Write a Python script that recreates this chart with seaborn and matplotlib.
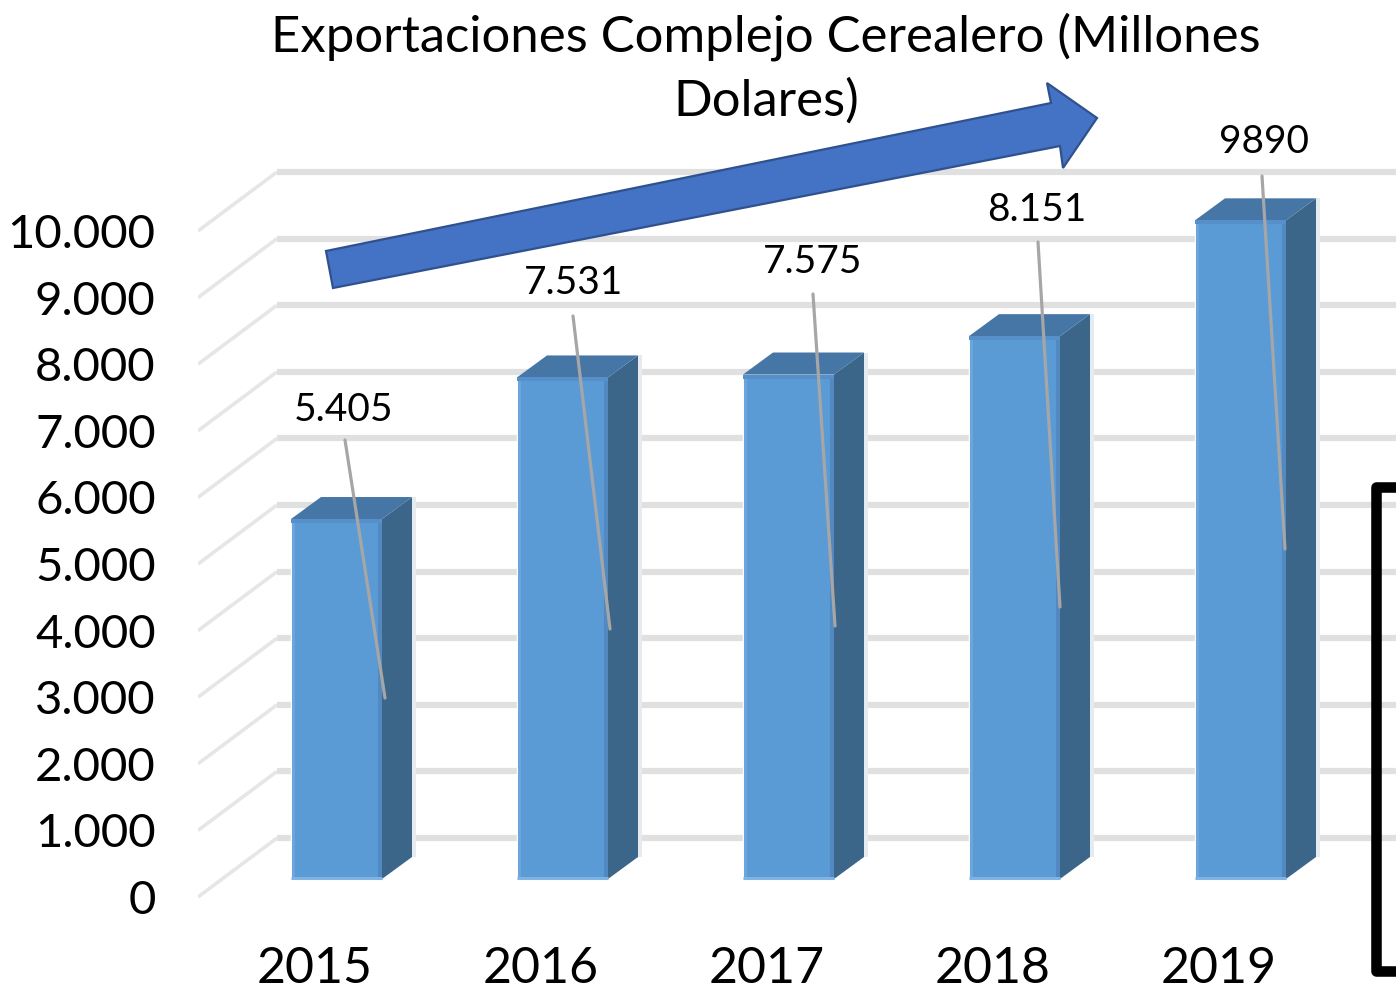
import numpy as np
import pandas as pd
import matplotlib.pyplot as plt
import seaborn as sns
from matplotlib.lines import Line2D
from matplotlib.patches import Polygon
from matplotlib.transforms import Affine2D

years = ["2015", "2016", "2017", "2018", "2019"]
exports = [5405, 7531, 7575, 8151, 9890]
bar_labels = ["5.405", "7.531", "7.575", "8.151", "9890"]
y_ticks = [0, 1000, 2000, 3000, 4000, 5000, 6000, 7000, 8000, 9000, 10000]
y_tick_labels = ["0", "1.000", "2.000", "3.000", "4.000", "5.000", "6.000", "7.000", "8.000", "9.000", "10.000"]
title = "Exportaciones Complejo Cerealero (Millones\nDolares)"

W, H = 1396, 991
PX_PER_CAT = 226
PX_PER_UNIT = 0.0666
Y0 = 897  # pixel row of value 0 on the front left edge
X0 = 336.5  # pixel column of the first category

sns.set_style("white")
plt.rcParams["font.family"] = ["Lato", "DejaVu Sans"]

fig = plt.figure(figsize=(W / 100, H / 100), dpi=100)
ax = fig.add_axes([198 / W, (H - 945) / H, (W - 198) / W, 945 / H])

df = pd.DataFrame({"year": years, "value": exports})
bar_base = 18 / PX_PER_UNIT
sns.barplot(data=df, x="year", y="value", color="#5B9BD5", saturation=1, width=91 / PX_PER_CAT,
            bottom=bar_base, ax=ax, zorder=3)

ax.set_xlim((198 - X0) / PX_PER_CAT, (W - X0) / PX_PER_CAT)
ax.set_ylim((Y0 - 945) / PX_PER_UNIT, Y0 / PX_PER_UNIT)
sns.despine(ax=ax, left=True, bottom=True)
ax.set_xlabel("")
ax.set_ylabel("")

ax.set_yticks(y_ticks)
ax.set_yticklabels(y_tick_labels, fontsize=34, color="black")
ax.tick_params(axis="y", length=0, pad=30.5)
ax.set_xticks(np.arange(len(years)) - 22 / PX_PER_CAT)
ax.set_xticklabels(years, fontsize=36, color="black")
ax.tick_params(axis="x", length=0, pad=1)

# back wall and side wall gridlines
back_x = (277 - X0) / PX_PER_CAT
back_dy = 59 / PX_PER_UNIT
for v in y_ticks:
    ax.plot([(198 - X0) / PX_PER_CAT, back_x], [v, v + back_dy], color="#E6E6E6", lw=2.6, zorder=1,
            solid_capstyle="butt")
    ax.plot([back_x, (W - X0) / PX_PER_CAT], [v + back_dy, v + back_dy], color="#E0E0E0", lw=4.5, zorder=1,
            solid_capstyle="butt")

# fake 3d depth on the bars
dx = 30 / PX_PER_CAT
dy = 22 / PX_PER_UNIT
for bar in ax.patches[:len(years)]:
    l = bar.get_x()
    r = l + bar.get_width()
    b = bar.get_y()
    t = b + bar.get_height()
    ax.add_patch(Polygon([(r + 4 / PX_PER_CAT, b + dy), (r + dx + 4 / PX_PER_CAT, b + dy),
                          (r + dx + 4 / PX_PER_CAT, t + dy), (r + dx, t + dy)], color="#E6EBF0", lw=0, zorder=2))
    ax.add_patch(Polygon([(r, b), (r + dx, b + dy), (r + dx, t + dy), (r, t)], color="#3B6689", lw=0, zorder=4))
    ax.add_patch(Polygon([(l, t), (l + dx, t + dy), (r + dx, t + dy), (r, t)], color="#4676A6", lw=0, zorder=4))
    # bevel strips on the front face
    ax.plot([l + 1.5 / PX_PER_CAT] * 2, [b, t], color="#6AA5DC", lw=2.2, zorder=4, solid_capstyle="butt")
    ax.plot([r - 2 / PX_PER_CAT] * 2, [b, t], color="#5189C0", lw=2.9, zorder=4, solid_capstyle="butt")
    ax.plot([l, r], [t - 2 / PX_PER_UNIT] * 2, color="#5590CB", lw=2.9, zorder=4, solid_capstyle="butt")
    ax.plot([l, r], [b + 1.5 / PX_PER_UNIT] * 2, color="#7FB3E3", lw=2.2, zorder=4, solid_capstyle="butt")

# everything below is placed on the canvas in pixels, y going down
px = Affine2D().scale(1 / W, -1 / H).translate(0, 1) + fig.transFigure

# data labels with their leader lines
label_pos = [(344, 410), (574, 283), (813, 262), (1037, 210), (1264, 142)]
leader_start = [(345, 440), (573, 316), (813, 294), (1038, 242), (1262, 176)]
leader_end = [(385, 698), (610, 629), (835, 626), (1060, 607), (1285, 549)]
for text, pos, s, e in zip(bar_labels, label_pos, leader_start, leader_end):
    fig.add_artist(Line2D([s[0], e[0]], [s[1], e[1]], transform=px, color="#A6A6A6", lw=2.3, zorder=6))
    fig.text(pos[0], pos[1], text, transform=px, fontsize=28, ha="center", va="center", color="black", zorder=6)

arrow_pts = [(326, 251), (1051, 103), (1047, 83), (1097, 118), (1063, 168), (1060, 146), (333, 288)]
fig.add_artist(Polygon(arrow_pts, closed=True, transform=px, facecolor="#4472C4", edgecolor="#2F528F", lw=1.6,
                       joinstyle="miter", zorder=7))

fig.add_artist(Line2D([W + 10, 1376, 1376, W + 10], [487, 487, 971, 971], transform=px, color="black", lw=7.6,
                      solid_joinstyle="round", zorder=8))

fig.text(766, 12, title, transform=px, fontsize=36.6, ha="center", va="top", color="black", linespacing=1.46,
         zorder=6)

fig.savefig("out.png", dpi=100)
